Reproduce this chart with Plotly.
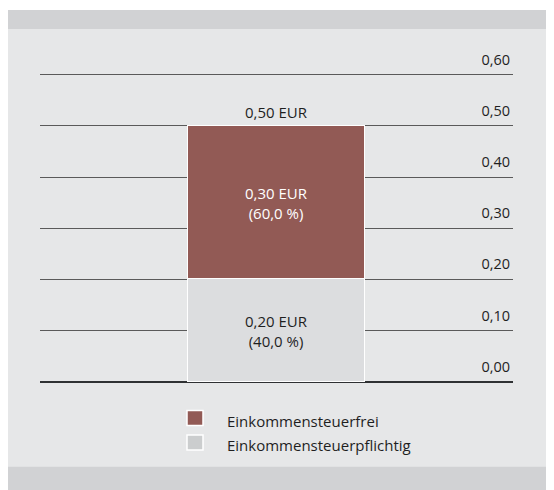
import plotly.graph_objects as go

categories = ["Dividende"]
series_names = ["Einkommensteuerpflichtig", "Einkommensteuerfrei"]
values_pflichtig = [0.20]
values_frei = [0.30]
tick_values = [0.0, 0.1, 0.2, 0.3, 0.4, 0.5, 0.6]
tick_labels = ["0,00", "0,10", "0,20", "0,30", "0,40", "0,50", "0,60"]

BROWN = "#925a55"
LIGHT = "#dcdddf"
LEG_LIGHT = "#cbcdce"
BG = "#e6e7e8"
BAND = "#d1d2d4"
TXT = "#1f1f1f"
FONT = "Open Sans"

W, H = 554, 490
mt, mb, ml, mr = 36, 106, 32, 49
ph = H - mt - mb
pw = W - ml - mr

def fmt(v, d=2):
    return f"{v:.{d}f}".replace(".", ",")

def pf(ypix):
    return (H - mb - ypix) / ph

def px(xpix):
    return (xpix - ml) / pw

total = values_pflichtig[0] + values_frei[0]
x = [0]

fig = go.Figure()
fig.add_trace(go.Bar(
    x=x, y=values_pflichtig, name=series_names[0], width=0.376,
    marker=dict(color=LIGHT, line=dict(color="white", width=1.5)), hoverinfo="skip",
))
fig.add_trace(go.Bar(
    x=x, y=values_frei, name=series_names[1], width=0.376,
    marker=dict(color=BROWN, line=dict(color="white", width=1.5)), hoverinfo="skip",
))

# segment labels
base = 0.0
for vals, col in [(values_pflichtig, TXT), (values_frei, "white")]:
    v = vals[0]
    mid = base + v / 2
    fig.add_annotation(x=0, y=mid, text=f"{fmt(v)} EUR<br>({fmt(v/total*100,1)} %)",
                       showarrow=False, font=dict(color=col, size=15, family=FONT))
    base += v

fig.add_annotation(x=0, y=total, text=f"{fmt(total)} EUR", showarrow=False,
                   yanchor="bottom", yshift=2, font=dict(color=TXT, size=15, family=FONT))

# background bands
fig.add_shape(type="rect", xref="paper", yref="paper", x0=-0.2, x1=1.2,
              y0=pf(21), y1=pf(2), fillcolor=BAND, line_width=0, layer="below")
fig.add_shape(type="rect", xref="paper", yref="paper", x0=-0.2, x1=1.2,
              y0=pf(H), y1=pf(458.7), fillcolor=BAND, line_width=0, layer="below")
fig.add_shape(type="rect", xref="paper", yref="paper", x0=-0.2, x1=1.2,
              y0=pf(2), y1=pf(-5), fillcolor="white", line_width=0, layer="below")

# custom legend
legend_items = [(series_names[1], BROWN), (series_names[0], LEG_LIGHT)]
for i, (name, col) in enumerate(legend_items):
    yc = 410 + i * 24.5
    fig.add_shape(type="rect", xref="paper", yref="paper",
                  x0=px(179), x1=px(195), y0=pf(yc + 7.5), y1=pf(yc - 7.5),
                  fillcolor=col, line=dict(color="white", width=1.5))
    fig.add_annotation(xref="paper", yref="paper", x=px(217), y=pf(yc + 2.5),
                       text=name, showarrow=False, xanchor="left", yanchor="middle",
                       font=dict(color=TXT, size=15, family=FONT))

fig.update_layout(
    width=W, height=H, margin=dict(t=mt, b=mb, l=ml, r=mr),
    paper_bgcolor=BG, plot_bgcolor=BG, barmode="stack", bargap=0,
    font=dict(family=FONT, size=14, color=TXT),
    showlegend=False,
    xaxis=dict(range=[-0.5, 0.5], showgrid=False, zeroline=False, showticklabels=False,
               fixedrange=True),
    yaxis=dict(range=[-0.02, 0.66], side="right", tickvals=tick_values, ticktext=tick_labels,
               ticklabelposition="inside top", ticks="", showgrid=True, gridcolor="#5a5a5a",
               gridwidth=1, zeroline=True, zerolinecolor="#2f3133", zerolinewidth=2,
               tickfont=dict(size=14.5, color=TXT, family=FONT), ticklabelshift=-5,
               fixedrange=True),
)
fig.write_html("out.html")
